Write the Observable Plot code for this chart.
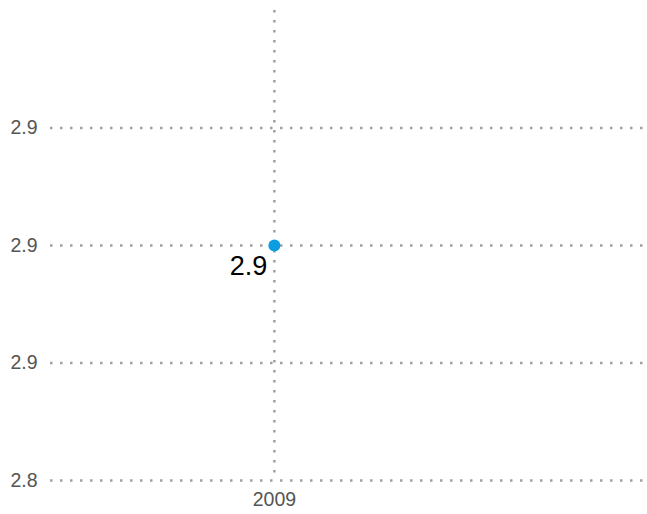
<!DOCTYPE html>
<html>
<head>
<meta charset="utf-8">
<script src="https://cdn.jsdelivr.net/npm/d3@7"></script>
<script src="https://cdn.jsdelivr.net/npm/@observablehq/plot@0.6"></script>
<style>
  html, body { margin: 0; padding: 0; background: #fff; }
  #chart { width: 647px; height: 514px; }
</style>
</head>
<body>
<div id="chart"></div>
<script>
const years = [2009];
const values = [2.88];
const valueLabels = ["2.9"];
const yTicks = [2.84, 2.86, 2.88, 2.90];
const yTickLabels = ["2.8", "2.9", "2.9", "2.9"];
const xTicks = [2009];

const data = years.map((y, i) => ({year: y, value: values[i], label: valueLabels[i]}));

const chart = Plot.plot({
  width: 647,
  height: 514,
  marginLeft: 50,
  marginRight: 0,
  marginTop: 10,
  marginBottom: 34,
  style: {fontFamily: "Liberation Sans, Arial, sans-serif", fontSize: "19.5px", background: "#fff"},
  x: {domain: [2008.25, 2010.25], ticks: xTicks, tickFormat: d => String(d), tickSize: 0, tickPadding: 12, label: null},
  y: {domain: [2.84, 2.92], ticks: yTicks, tickFormat: (d, i) => yTickLabels[i], tickSize: 0, tickPadding: 13, label: null},
  marks: [
    Plot.ruleY(yTicks, {stroke: "#a0a0a0", strokeWidth: 2.5, strokeDasharray: "2.5 7.5", strokeOpacity: 1}),
    Plot.ruleX(xTicks, {stroke: "#a0a0a0", strokeWidth: 2.5, strokeDasharray: "2.5 7.5", strokeOpacity: 1}),
    Plot.axisY({ticks: yTicks, tickFormat: (d, i) => yTickLabels[i], tickSize: 0, tickPadding: 13, fontSize: 19.5, fill: "#555", label: null}),
    Plot.axisX({ticks: xTicks, tickFormat: d => String(d), tickSize: 0, tickPadding: 12, fontSize: 19.5, fill: "#555", label: null}),
    Plot.dot(data, {x: "year", y: "value", r: 6, fill: "#0a9ee0", stroke: "none"}),
    Plot.text(data, {x: "year", y: "value", text: "label", textAnchor: "end", dx: -7, dy: 21, fontSize: 27, fill: "#000"})
  ]
});
document.getElementById("chart").appendChild(chart);
</script>
</body>
</html>
